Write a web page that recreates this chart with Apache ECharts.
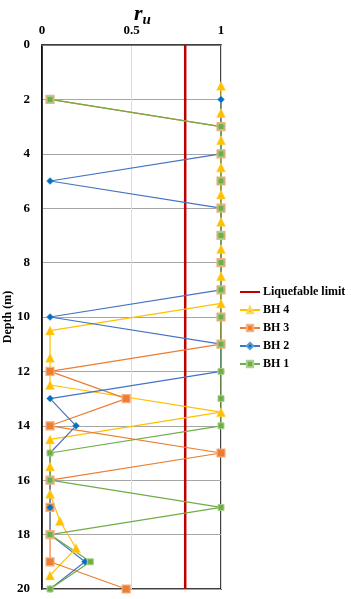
<!DOCTYPE html>
<html>
<head>
<meta charset="utf-8">
<script src="https://cdn.jsdelivr.net/npm/echarts@6/dist/echarts.min.js"></script>
<style>
  html, body { margin: 0; padding: 0; background: #fff; }
  #chart { width: 351px; height: 599px; }
</style>
</head>
<body>
<div id="chart"></div>
<script>
// depths (m)
const depthsHalf = [1.5, 2.5, 3.5, 4.5, 5.5, 6.5, 7.5, 8.5, 9.5, 10.5, 11.5, 12.5, 13.5, 14.5, 15.5, 16.5, 17.5, 18.5, 19.5];
const depthsInt = [2, 3, 4, 5, 6, 7, 8, 9, 10, 11, 12, 13, 14, 15, 16, 17, 18, 19, 20];

// r_u values
const bh4 = [1, 1, 1, 1, 1, 1, 1, 1, 1, 0.045, 0.045, 0.045, 1, 0.045, 0.045, 0.045, 0.10, 0.19, 0.045];
const bh3 = [0.045, 1, 1, 1, 1, 1, 1, 1, 1, 1, 0.045, 0.47, 0.045, 1, 0.045, 0.045, 0.045, 0.045, 0.47];
const bh2 = [1, 1, 1, 0.045, 1, 1, 1, 1, 0.045, 1, 1, 0.045, 0.19, 0.045, 0.045, 0.045, 0.045, 0.24, 0.045];
const bh1 = [0.045, 1, 1, 1, 1, 1, 1, 1, 1, 1, 1, 1, 1, 0.045, 0.045, 1, 0.045, 0.27, 0.045];

const limitRu = 0.8;
const limitDepths = [0, 20];

const serif = "'Liberation Serif', 'DejaVu Serif', serif";

function pairs(xs, ys) {
  return ys.map((d, i) => [xs[i], d]);
}

var dom = document.getElementById("chart");
var myChart = echarts.init(dom, null, { renderer: "canvas" });

var option = {
  animation: false,
  title: {
    text: "{r|r}{u|u}",
    left: 129,
    top: -4,
    textStyle: {
      rich: {
        r: { fontFamily: serif, fontStyle: "italic", fontSize: 22, color: "#000", lineHeight: 24 },
        u: { fontFamily: serif, fontStyle: "italic", fontSize: 15, color: "#000", padding: [12, 0, 0, 0] }
      }
    }
  },
  legend: {
    orient: "vertical",
    left: 234,
    top: 281,
    itemWidth: 20,
    itemHeight: 8,
    itemGap: 6,
    textStyle: { fontFamily: serif, fontWeight: "bold", fontSize: 12, color: "#000", padding: [0, 0, 0, -2] },
    data: [
      { name: "Liquefable limit", itemStyle: { opacity: 0 } },
      "BH 4", "BH 3", "BH 2", "BH 1"
    ]
  },
  grid: {
    left: 42,
    right: 130,
    top: 45,
    bottom: 10,
    containLabel: false,
    outerBoundsMode: "none",
    show: true,
    borderColor: "#000",
    borderWidth: 1.5
  },
  xAxis: {
    type: "value",
    position: "top",
    min: 0,
    max: 1,
    interval: 0.5,
    axisLine: { show: true, lineStyle: { color: "#777", width: 1 } },
    axisTick: { show: false },
    splitLine: { show: true, lineStyle: { color: "#dcdcdc", width: 1 } },
    axisLabel: { fontFamily: serif, fontWeight: "bold", fontSize: 13, color: "#000", margin: 8 }
  },
  yAxis: {
    type: "value",
    inverse: true,
    min: 0,
    max: 20,
    interval: 2,
    name: "Depth (m)",
    nameLocation: "middle",
    nameGap: 28,
    nameMoveOverlap: false,
    nameTextStyle: { fontFamily: serif, fontWeight: "bold", fontSize: 12, color: "#000" },
    axisLine: { show: true, lineStyle: { color: "#000", width: 1.5 } },
    axisTick: { show: false },
    splitLine: { show: true, lineStyle: { color: "#a6a6a6", width: 1 } },
    axisLabel: { fontFamily: serif, fontWeight: "bold", fontSize: 13, color: "#000", margin: 12 }
  },
  series: [
    {
      name: "Liquefable limit",
      type: "line",
      data: limitDepths.map(d => [limitRu, d]),
      showSymbol: false,
      symbol: "none",
      lineStyle: { color: "#C00000", width: 2.5 },
      itemStyle: { color: "#C00000" }
    },
    {
      name: "BH 4",
      type: "line",
      data: pairs(bh4, depthsHalf),
      symbol: "triangle",
      symbolSize: 9,
      lineStyle: { color: "#FFC000", width: 1.2 },
      itemStyle: { color: "#FFC000", borderColor: "#FFD966", borderWidth: 0.5 }
    },
    {
      name: "BH 3",
      type: "line",
      data: pairs(bh3, depthsInt),
      symbol: "rect",
      symbolSize: 8,
      lineStyle: { color: "#ED7D31", width: 1.2 },
      itemStyle: { color: "#ED7D31", borderColor: "#F4B183", borderWidth: 1.2 }
    },
    {
      name: "BH 2",
      type: "line",
      data: pairs(bh2, depthsInt),
      symbol: "diamond",
      symbolSize: 7,
      lineStyle: { color: "#4472C4", width: 1.2 },
      itemStyle: { color: "#0070C0", borderColor: "#5B9BD5", borderWidth: 0.5 }
    },
    {
      name: "BH 1",
      type: "line",
      data: pairs(bh1, depthsInt),
      symbol: "rect",
      symbolSize: 6,
      lineStyle: { color: "#70AD47", width: 1.2 },
      itemStyle: { color: "#70AD47", borderColor: "#A9D18E", borderWidth: 1 }
    }
  ]
};

myChart.setOption(option);
window.addEventListener("resize", myChart.resize);
</script>
</body>
</html>
